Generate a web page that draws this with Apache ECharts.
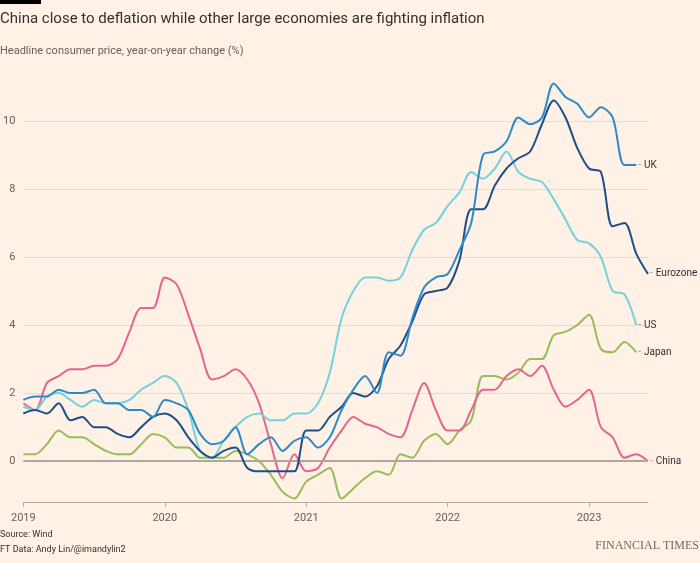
<!DOCTYPE html>
<html>
<head>
<meta charset="utf-8">
<script src="https://cdn.jsdelivr.net/npm/echarts@6/dist/echarts.min.js"></script>
<style>
  html, body { margin: 0; padding: 0; background: #fff1e5; }
  #chart { width: 700px; height: 563px; }
</style>
</head>
<body>
<div id="chart"></div>
<script>
// monthly, Jan 2019 .. Jun 2023
const years = ['2019', '2020', '2021', '2022', '2023'];
const months = [];
years.forEach(y => {
  for (let m = 1; m <= 12; m++) {
    if (y === '2023' && m > 6) break;
    months.push(y + '-' + (m < 10 ? '0' + m : m));
  }
});

const us = [
  1.6, 1.5, 1.9, 2.0, 1.8, 1.6, 1.8, 1.7, 1.7, 1.8, 2.1, 2.3,
  2.5, 2.3, 1.5, 0.3, 0.1, 0.6, 1.0, 1.3, 1.4, 1.2, 1.2, 1.4,
  1.4, 1.7, 2.6, 4.2, 5.0, 5.4, 5.4, 5.3, 5.4, 6.2, 6.8, 7.0,
  7.5, 7.9, 8.5, 8.3, 8.6, 9.1, 8.5, 8.3, 8.2, 7.7, 7.1, 6.5,
  6.4, 6.0, 5.0, 4.9, 4.0
];
const uk = [
  1.8, 1.9, 1.9, 2.1, 2.0, 2.0, 2.1, 1.7, 1.7, 1.5, 1.5, 1.3,
  1.8, 1.7, 1.5, 0.8, 0.5, 0.6, 1.0, 0.2, 0.5, 0.7, 0.3, 0.6,
  0.7, 0.4, 0.7, 1.5, 2.1, 2.5, 2.0, 3.2, 3.1, 4.2, 5.1, 5.4,
  5.5, 6.2, 7.0, 9.0, 9.1, 9.4, 10.1, 9.9, 10.1, 11.1, 10.7, 10.5,
  10.1, 10.4, 10.1, 8.7, 8.7
];
const eurozone = [
  1.4, 1.5, 1.4, 1.7, 1.2, 1.3, 1.0, 1.0, 0.8, 0.7, 1.0, 1.3,
  1.4, 1.2, 0.7, 0.3, 0.1, 0.3, 0.4, -0.2, -0.3, -0.3, -0.3, -0.3,
  0.9, 0.9, 1.3, 1.6, 2.0, 1.9, 2.2, 3.0, 3.4, 4.1, 4.9, 5.0,
  5.1, 5.9, 7.4, 7.4, 8.1, 8.6, 8.9, 9.1, 9.9, 10.6, 10.1, 9.2,
  8.6, 8.5, 6.9, 7.0, 6.1, 5.5
];
const japan = [
  0.2, 0.2, 0.5, 0.9, 0.7, 0.7, 0.5, 0.3, 0.2, 0.2, 0.5, 0.8,
  0.7, 0.4, 0.4, 0.1, 0.1, 0.1, 0.3, 0.2, 0.0, -0.4, -0.9, -1.1,
  -0.6, -0.4, -0.2, -1.1, -0.8, -0.5, -0.3, -0.4, 0.2, 0.1, 0.6, 0.8,
  0.5, 0.9, 1.2, 2.5, 2.5, 2.4, 2.6, 3.0, 3.0, 3.7, 3.8, 4.0,
  4.3, 3.3, 3.2, 3.5, 3.2
];
const china = [
  1.7, 1.5, 2.3, 2.5, 2.7, 2.7, 2.8, 2.8, 3.0, 3.8, 4.5, 4.5,
  5.4, 5.2, 4.3, 3.3, 2.4, 2.5, 2.7, 2.4, 1.7, 0.5, -0.5, 0.2,
  -0.3, -0.2, 0.4, 0.9, 1.3, 1.1, 1.0, 0.8, 0.7, 1.5, 2.3, 1.5,
  0.9, 0.9, 1.5, 2.1, 2.1, 2.5, 2.7, 2.5, 2.8, 2.1, 1.6, 1.8,
  2.1, 1.0, 0.7, 0.1, 0.2, 0.0
];

const chart = echarts.init(document.getElementById('chart'));

function line(name, data, color, z) {
  return {
    name: name,
    type: 'line',
    data: data,
    smooth: 0.3,
    symbol: 'none',
    z: z,
    lineStyle: { color: color, width: 2 },
    endLabel: {
      show: true,
      distance: 2,
      formatter: '{d|-}' + name,
      color: '#33302e',
      fontSize: 10,
      fontFamily: 'Roboto',
      rich: { d: { color: '#9e948c', fontSize: 10, padding: [0, 3, 0, 0] } }
    }
  };
}

const series = [
  line('Japan', japan, '#98bd5a', 3),
  line('China', china, '#e5668c', 4),
  line('US', us, '#72d3dc', 5),
  line('Eurozone', eurozone, '#1c4f8a', 6),
  line('UK', uk, '#2b8bc6', 7)
];
series[0].markLine = {
  silent: true,
  symbol: 'none',
  label: { show: false },
  lineStyle: { color: '#b0a69e', width: 2, type: 'solid' },
  data: [{ yAxis: 0 }]
};

chart.setOption({
  backgroundColor: '#fff1e5',
  animation: false,
  textStyle: { fontFamily: 'Roboto' },
  graphic: [
    { type: 'rect', left: 0, top: 0, shape: { width: 41, height: 4 }, style: { fill: '#000' } },
    {
      type: 'text', left: 0, top: 12,
      style: { text: 'China close to deflation while other large economies are fighting inflation', fill: '#33302e', fontSize: 15, fontFamily: 'Roboto' }
    },
    {
      type: 'text', left: 0, top: 46,
      style: { text: 'Headline consumer price, year-on-year change (%)', fill: '#66605c', fontSize: 11, fontFamily: 'Roboto' }
    },
    {
      type: 'text', left: 0, top: 527,
      style: { text: 'Source: Wind\nFT Data: Andy Lin/@imandylin2', fill: '#33302e', fontSize: 9, lineHeight: 15, fontFamily: 'Roboto' }
    },
    {
      type: 'text', right: 1, top: 540,
      style: { text: 'FINANCIAL TIMES', fill: '#6f6a66', fontSize: 12, fontFamily: 'Liberation Serif' }
    }
  ],
  grid: { left: 21, right: 52, top: 80, bottom: 61 },
  xAxis: {
    type: 'category',
    data: months,
    boundaryGap: false,
    axisLine: { show: true, onZero: false, lineStyle: { color: '#b5aca4', width: 1 } },
    axisTick: {
      show: true,
      length: 5,
      interval: (i) => i % 12 === 0,
      lineStyle: { color: '#b5aca4' }
    },
    axisLabel: {
      interval: (i) => i % 12 === 0,
      formatter: (v) => years[years.indexOf(v.slice(0, 4))],
      color: '#66605c',
      fontSize: 11,
      margin: 11
    },
    splitLine: { show: false }
  },
  yAxis: {
    type: 'value',
    min: -1.2,
    max: 11.2,
    minInterval: 2,
    maxInterval: 2,
    axisLine: { show: false },
    axisTick: { show: false },
    axisLabel: {
      showMinLabel: false,
      showMaxLabel: false,
      color: '#66605c',
      fontSize: 11,
      margin: 8
    },
    splitLine: {
      show: true,
      showMinLine: false,
      showMaxLine: false,
      lineStyle: { color: '#e6d9ce', width: 1 }
    }
  },
  series: series
});
</script>
</body>
</html>
